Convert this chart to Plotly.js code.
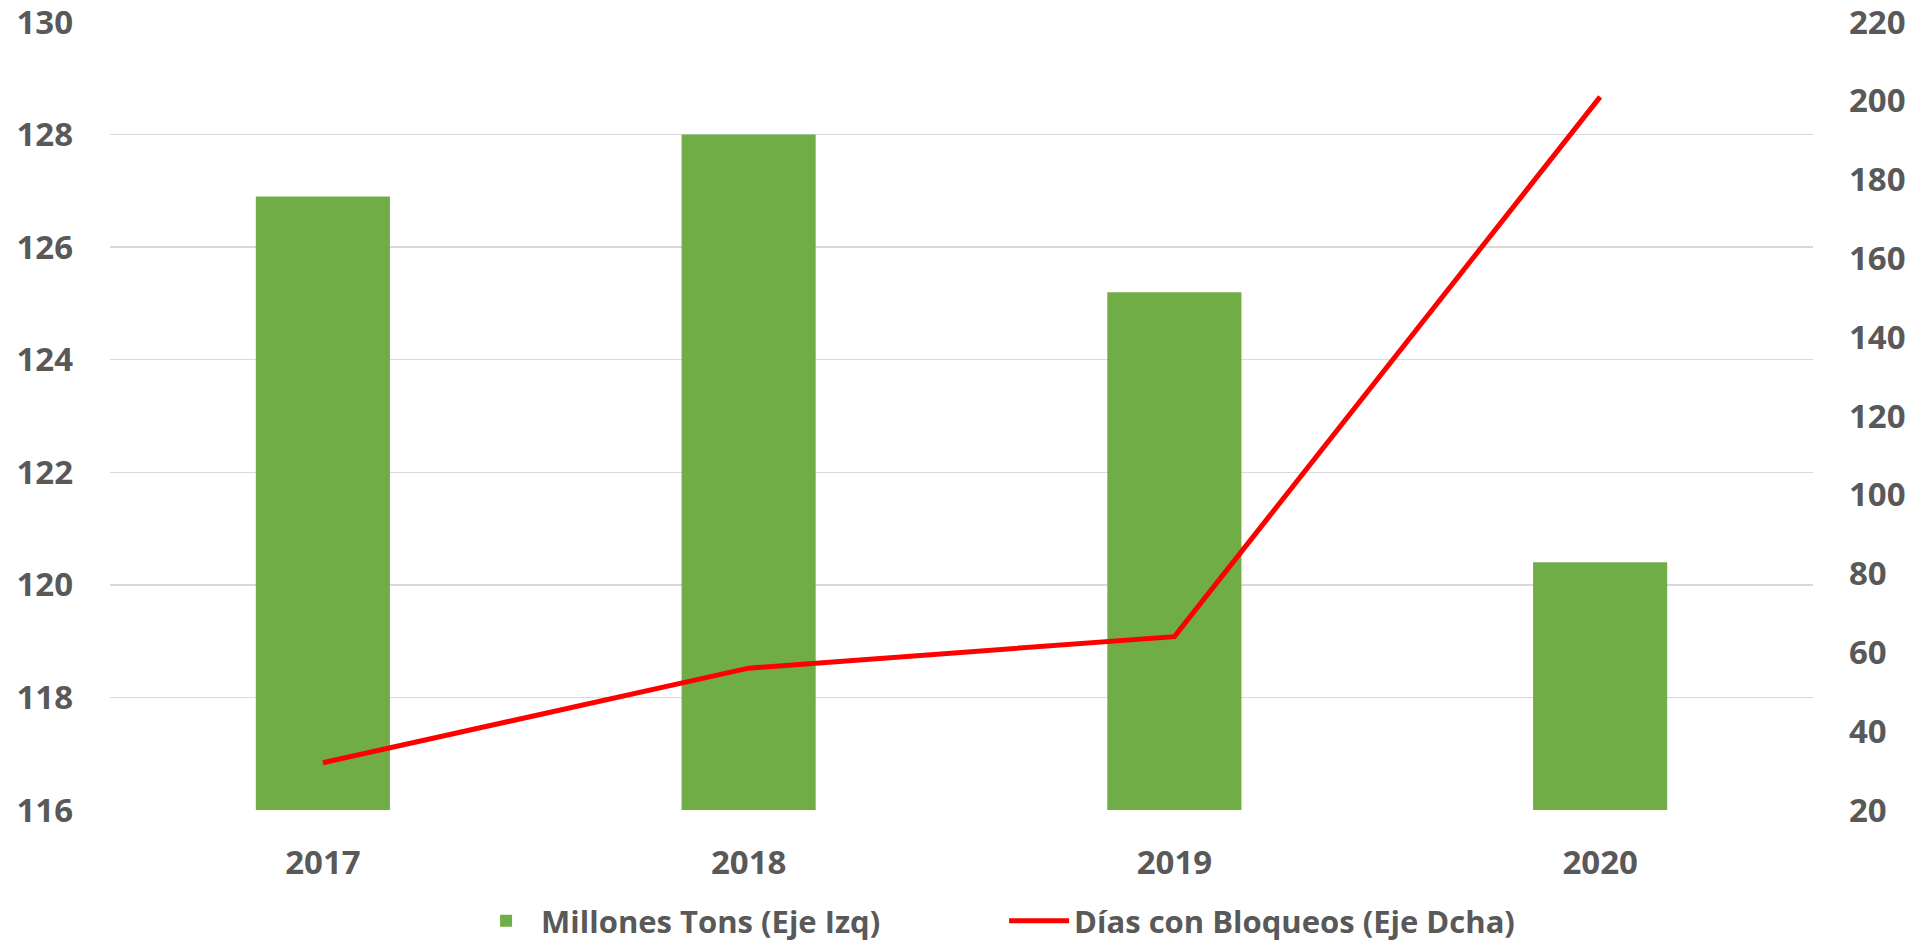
<!DOCTYPE html>
<html>
<head>
<meta charset="utf-8">
<script src="https://cdn.plot.ly/plotly-3.0.1.min.js"></script>
<style>html,body{margin:0;padding:0;background:#fff;}#chart{width:1913px;height:944px;}</style>
</head>
<body>
<div id="chart"></div>
<script>
const years = ['2017', '2018', '2019', '2020'];
const millonesTons = [126.9, 128.0, 125.2, 120.4];
const diasBloqueos = [32, 56, 64, 201];
const leftTicks = [116, 118, 120, 122, 124, 126, 128, 130];
const rightTicks = [20, 40, 60, 80, 100, 120, 140, 160, 180, 200, 220];

const FONT = 'Open Sans, sans-serif';
const GREY = '#595959';

const traces = [
  {
    type: 'bar', x: years, y: millonesTons, name: 'Millones Tons (Eje Izq)',
    marker: {color: '#70ad47'}, yaxis: 'y'
  },
  {
    type: 'scatter', mode: 'lines', x: years, y: diasBloqueos, name: 'Días con Bloqueos (Eje Dcha)',
    line: {color: '#ff0000', width: 5}, yaxis: 'y2'
  }
];

const layout = {
  width: 1913, height: 944,
  margin: {l: 110, r: 100, t: 22, b: 134, autoexpand: false},
  paper_bgcolor: '#ffffff', plot_bgcolor: '#ffffff',
  font: {family: FONT, color: GREY, size: 30, weight: 'bold'},
  bargap: 0.685,
  showlegend: true,
  legend: {
    orientation: 'h', x: 0.525, xanchor: 'center', y: -0.141, yanchor: 'middle',
    font: {family: FONT, size: 31, color: GREY, weight: 'bold'},
    itemwidth: 60, entrywidth: 458
  },
  xaxis: {
    type: 'category', showgrid: false, zeroline: false, showline: false,
    ticks: '', ticklabelstandoff: 30,
    tickfont: {family: FONT, size: 33, color: GREY, weight: 'bold'}
  },
  yaxis: {
    range: [116, 130], tickvals: leftTicks, ticklabeloverflow: 'allow',
    showgrid: true, gridcolor: '#d9d9d9', gridwidth: 1.5,
    zeroline: false, showline: false, ticks: '', ticklabelstandoff: 36,
    tickfont: {family: FONT, size: 33, color: GREY, weight: 'bold'}
  },
  yaxis2: {
    overlaying: 'y', side: 'right', range: [20, 220], tickvals: rightTicks, ticklabeloverflow: 'allow',
    showgrid: false, zeroline: false, showline: false, ticks: '', ticklabelstandoff: 35,
    tickfont: {family: FONT, size: 33, color: GREY, weight: 'bold'}
  }
};

Plotly.newPlot('chart', traces, layout, {displayModeBar: false, staticPlot: true});
</script>
</body>
</html>
